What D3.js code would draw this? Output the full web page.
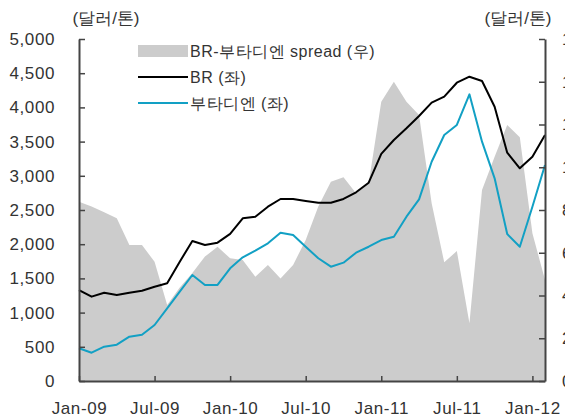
<!DOCTYPE html>
<html><head><meta charset="utf-8">
<script src="https://cdn.jsdelivr.net/npm/d3@7"></script>
<style>
body{margin:0;background:#fff;}
svg text{font-family:"Liberation Sans",Arial,sans-serif;fill:#333;}
</style></head>
<body><svg id="c" width="565" height="419"></svg>
<script>
const monthIndex = d3.range(38); // Jan-09 .. Feb-12
const xTickValues = [0, 6, 12, 18, 24, 30, 36];
const xTickLabels = ["Jan-09","Jul-09","Jan-10","Jul-10","Jan-11","Jul-11","Jan-12"];
const brValues = [1330,1233,1291,1257,1291,1320,1379,1428,1744,2047,1988,2022,2150,2378,2402,2548,2661,2661,2632,2607,2607,2661,2759,2899,3320,3523,3694,3874,4069,4157,4361,4449,4386,4010,3338,3110,3279,3596];
const bdValues = [478,414,502,531,648,677,819,1063,1306,1550,1404,1404,1647,1808,1905,2013,2168,2134,1963,1794,1671,1730,1876,1963,2061,2110,2402,2656,3206,3596,3743,4191,3499,2963,2149,1963,2548,3158];
const spreadValues = [839,816,789,761,636,636,558,356,438,505,582,628,574,566,488,543,480,543,660,816,932,953,878,925,1307,1400,1307,1244,831,555,608,270,894,1049,1198,1140,691,473];
const leftTicks = [0,500,1000,1500,2000,2500,3000,3500,4000,4500,5000];
const rightTicks = [0,200,400,600,800,1000,1200,1400,1600];
const legendLabels = ["BR-부타디엔 spread (우)", "BR (좌)", "부타디엔 (좌)"];
const unitLabel = "(달러/톤)";

const svg = d3.select("#c");
const L = 79, R = 545, T = 39, B = 381;
const x = d3.scaleLinear().domain([0, 37]).range([L, R]);
const yL = d3.scaleLinear().domain([0, 5000]).range([B, T]);
const yR = d3.scaleLinear().domain([0, 1600]).range([B, T]);
const FS = 17;

// spread area
svg.append("path")
  .datum(monthIndex)
  .attr("fill", "#cccccc")
  .attr("d", d3.area().x(i => x(i)).y0(B).y1(i => yR(spreadValues[i])));

// lines
const line = arr => d3.line().x(i => x(i)).y(i => yL(arr[i]));
svg.append("path").datum(monthIndex).attr("fill","none").attr("stroke","#12a0c4")
  .attr("stroke-width",2).attr("stroke-linejoin","round").attr("d", line(bdValues));
svg.append("path").datum(monthIndex).attr("fill","none").attr("stroke","#000")
  .attr("stroke-width",2).attr("stroke-linejoin","round").attr("d", line(brValues));

function styleAxis(g){
  g.select(".domain").attr("stroke","#444").attr("stroke-width",2);
  g.selectAll(".tick line").attr("stroke","#444").attr("stroke-width",1.5);
  g.selectAll("text").attr("font-size",FS).attr("fill","#333")
    .style("font-family","'Liberation Sans',Arial,sans-serif").attr("letter-spacing","0.6px");
}

// left axis
svg.append("g").attr("transform",`translate(${L},0)`)
  .call(d3.axisLeft(yL).tickValues(leftTicks).tickFormat(d3.format(",")).tickSizeInner(-6).tickSizeOuter(0).tickPadding(24))
  .call(styleAxis);

// right axis (labels run off the right edge, as in the reference)
svg.append("g").attr("transform",`translate(${R},0)`)
  .call(d3.axisRight(yR).tickValues(rightTicks).tickFormat(d3.format(",")).tickSizeInner(-6).tickSizeOuter(0).tickPadding(17))
  .call(styleAxis);

// bottom axis
svg.append("g").attr("transform",`translate(0,${B})`)
  .call(d3.axisBottom(x).tickValues(xTickValues).tickFormat((d,i)=>xTickLabels[i]).tickSizeInner(-5).tickSizeOuter(0).tickPadding(21))
  .call(styleAxis);

// unit labels
svg.append("text").attr("x",106).attr("y",24).attr("text-anchor","middle").attr("font-size",FS).text(unitLabel);
svg.append("text").attr("x",518).attr("y",24).attr("text-anchor","middle").attr("font-size",FS).text(unitLabel);

// legend
const lg = svg.append("g");
lg.append("rect").attr("x",138).attr("y",45).attr("width",50).attr("height",12).attr("fill","#cccccc");
lg.append("line").attr("x1",138).attr("x2",188).attr("y1",77).attr("y2",77).attr("stroke","#000").attr("stroke-width",2);
lg.append("line").attr("x1",138).attr("x2",188).attr("y1",103).attr("y2",103).attr("stroke","#12a0c4").attr("stroke-width",2);
[51,77,103].forEach((yy,i)=>{
  lg.append("text").attr("x",190).attr("y",yy).attr("dy","0.35em").attr("font-size",FS-1)
    .attr("letter-spacing","0.5px").text(legendLabels[i]);
});
</script></body></html>
